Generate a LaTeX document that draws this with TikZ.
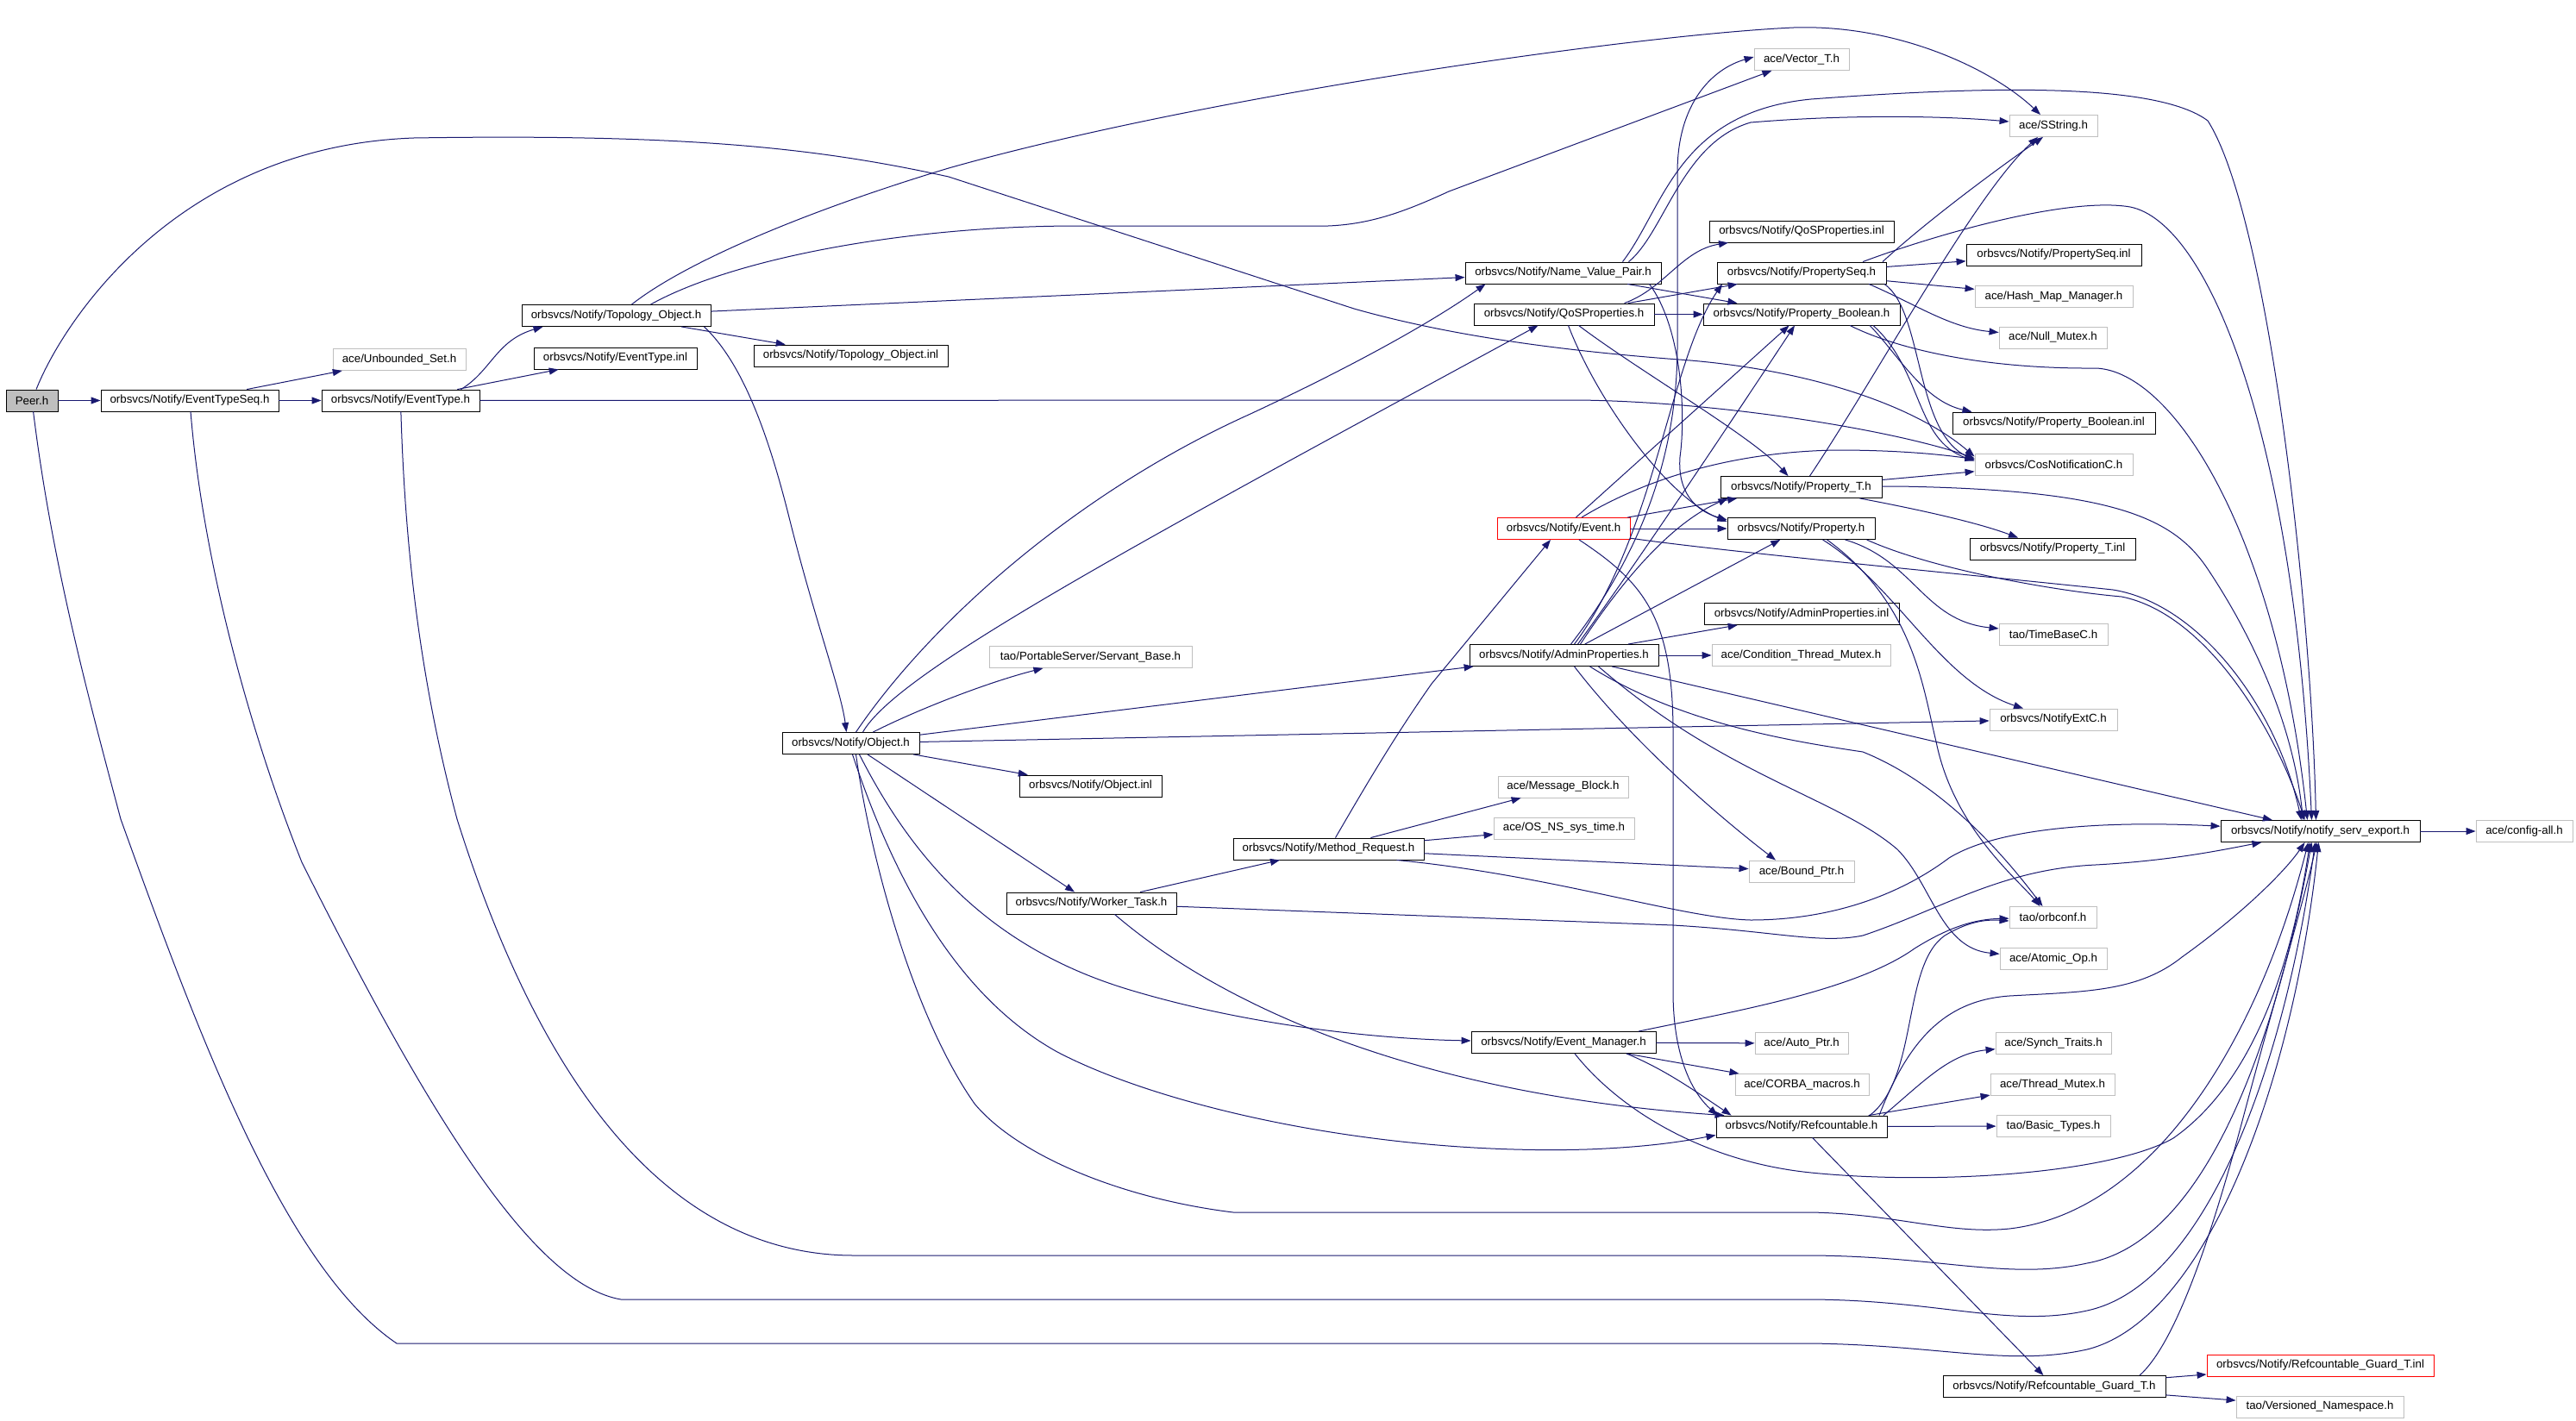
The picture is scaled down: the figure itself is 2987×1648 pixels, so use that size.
\documentclass[tikz,border=0pt]{standalone}
\usepackage{fontspec}
\setmainfont{Liberation Sans}
\usetikzlibrary{arrows.meta}
\definecolor{mblue}{HTML}{191970}
\definecolor{gbord}{HTML}{BFBFBF}
\definecolor{gfill}{HTML}{BFBFBF}
\newcommand{\nodefnt}{\fontsize{13.3}{15}\selectfont}
\begin{document}
\begin{tikzpicture}[x=1pt,y=-1pt,
  nbase/.style={rectangle, inner sep=0pt, minimum height=25pt, font=\nodefnt, line width=0.9pt},
  doc/.style={nbase, draw=black},
  ext/.style={nbase, draw=gbord},
  redb/.style={nbase, draw=red},
  root/.style={doc, fill=gfill},
  e/.style={draw=mblue, line width=1pt, -{Triangle[length=11pt,width=8pt]}}
]
\fill[white] (0,0) rectangle (2987,1648);
\useasboundingbox (0,0) rectangle (2987,1648);

% ---- nodes ----
\node[root, minimum width=60pt] (peer) at (37,464.5) {Peer.h};
\node[doc, minimum width=206pt] (ets) at (220,464.5) {orbsvcs/Notify/EventTypeSeq.h};
\node[doc, minimum width=183pt] (et) at (464.5,464.5) {orbsvcs/Notify/EventType.h};
\node[ext, minimum width=154pt] (ubs) at (463,417) {ace/Unbounded\_Set.h};
\node[doc, minimum width=189pt] (etinl) at (713.5,415.5) {orbsvcs/Notify/EventType.inl};
\node[doc, minimum width=219pt] (topo) at (714.5,366) {orbsvcs/Notify/Topology\_Object.h};
\node[doc, minimum width=225pt] (topoinl) at (986.5,412.5) {orbsvcs/Notify/Topology\_Object.inl};
\node[doc, minimum width=159pt] (obj) at (986.5,862) {orbsvcs/Notify/Object.h};
\node[ext, minimum width=235pt] (servant) at (1264.5,762) {tao/PortableServer/Servant\_Base.h};
\node[doc, minimum width=165pt] (objinl) at (1264.5,911.5) {orbsvcs/Notify/Object.inl};
\node[doc, minimum width=197pt] (worker) at (1265.5,1047.5) {orbsvcs/Notify/Worker\_Task.h};
\node[doc, minimum width=221pt] (method) at (1540.5,984.5) {orbsvcs/Notify/Method\_Request.h};
\node[ext, minimum width=151pt] (msgblk) at (1812.5,912.5) {ace/Message\_Block.h};
\node[ext, minimum width=163pt] (ostime) at (1813.5,960.5) {ace/OS\_NS\_sys\_time.h};
\node[ext, minimum width=122pt] (boundptr) at (2089,1010.5) {ace/Bound\_Ptr.h};
\node[doc, minimum width=214pt] (evmgr) at (1813,1209) {orbsvcs/Notify/Event\_Manager.h};
\node[ext, minimum width=108pt] (autoptr) at (2089,1210) {ace/Auto\_Ptr.h};
\node[ext, minimum width=155pt] (corba) at (2089.5,1258) {ace/CORBA\_macros.h};
\node[doc, minimum width=198pt] (refc) at (2089,1306.5) {orbsvcs/Notify/Refcountable.h};
\node[doc, minimum width=219pt] (admin) at (1813.5,760) {orbsvcs/Notify/AdminProperties.h};
\node[doc, minimum width=226pt] (admininl) at (2089,712) {orbsvcs/Notify/AdminProperties.inl};
\node[ext, minimum width=207pt] (condmutex) at (2088.5,760) {ace/Condition\_Thread\_Mutex.h};
\node[redb, minimum width=154pt] (event) at (1813,613) {orbsvcs/Notify/Event.h};
\node[doc, minimum width=187pt] (propT) at (2088.5,565) {orbsvcs/Notify/Property\_T.h};
\node[doc, minimum width=171pt] (prop) at (2088.5,613) {orbsvcs/Notify/Property.h};
\node[doc, minimum width=227pt] (nvp) at (1812.5,316.5) {orbsvcs/Notify/Name\_Value\_Pair.h};
\node[doc, minimum width=209pt] (qos) at (1813.5,364.5) {orbsvcs/Notify/QoSProperties.h};
\node[doc, minimum width=214pt] (qosinl) at (2089,268.5) {orbsvcs/Notify/QoSProperties.inl};
\node[doc, minimum width=196pt] (pseq) at (2089,316.5) {orbsvcs/Notify/PropertySeq.h};
\node[doc, minimum width=228pt] (pbool) at (2089,364.5) {orbsvcs/Notify/Property\_Boolean.h};
\node[ext, minimum width=110pt] (vector) at (2089,69) {ace/Vector\_T.h};
\node[ext, minimum width=102pt] (sstring) at (2381,146) {ace/SString.h};
\node[doc, minimum width=203pt] (pseqinl) at (2381.5,295.5) {orbsvcs/Notify/PropertySeq.inl};
\node[ext, minimum width=183pt] (hashmap) at (2381.5,344) {ace/Hash\_Map\_Manager.h};
\node[ext, minimum width=125pt] (nullmutex) at (2380.5,391.5) {ace/Null\_Mutex.h};
\node[doc, minimum width=235pt] (pboolinl) at (2381.5,490.5) {orbsvcs/Notify/Property\_Boolean.inl};
\node[ext, minimum width=183pt] (cosnot) at (2381.5,538.5) {orbsvcs/CosNotificationC.h};
\node[doc, minimum width=192pt] (propTinl) at (2380,636.5) {orbsvcs/Notify/Property\_T.inl};
\node[ext, minimum width=126pt] (timebase) at (2381,735.5) {tao/TimeBaseC.h};
\node[ext, minimum width=148pt] (notifyext) at (2381,834.5) {orbsvcs/NotifyExtC.h};
\node[doc, minimum width=231pt] (nse) at (2690.5,964) {orbsvcs/Notify/notify\_serv\_export.h};
\node[ext, minimum width=112pt] (configall) at (2927,964) {ace/config-all.h};
\node[ext, minimum width=101pt] (orbconf) at (2380.5,1064) {tao/orbconf.h};
\node[ext, minimum width=124pt] (atomic) at (2381,1112) {ace/Atomic\_Op.h};
\node[ext, minimum width=134pt] (synch) at (2381,1210) {ace/Synch\_Traits.h};
\node[ext, minimum width=144pt] (threadmutex) at (2380,1258) {ace/Thread\_Mutex.h};
\node[ext, minimum width=132pt] (basictypes) at (2381,1306) {tao/Basic\_Types.h};
\node[doc, minimum width=258pt] (rgt) at (2382,1608) {orbsvcs/Notify/Refcountable\_Guard\_T.h};
\node[redb, minimum width=263pt] (rgtinl) at (2690.5,1583.5) {orbsvcs/Notify/Refcountable\_Guard\_T.inl};
\node[ext, minimum width=194pt] (versioned) at (2690,1631.5) {tao/Versioned\_Namespace.h};

% ---- edges ----
% Peer.h
\draw[e] (peer) -- (ets);
\draw[e] (peer) .. controls (70,380) and (200,170) .. (480,160) .. controls (800,155) and (950,172) .. (1100,205) -- (1570,358) .. controls (1700,395) and (1850,410) .. (1960,418) .. controls (2100,430) and (2220,470) .. ([yshift=9]cosnot.west);
\draw[e] (peer) .. controls (60,650) and (100,800) .. (140,950) .. controls (230,1200) and (330,1470) .. (460,1558) -- (2100,1558) .. controls (2250,1560) and (2330,1585) .. (2420,1565) .. controls (2560,1530) and (2660,1250) .. ([xshift=-2]nse.south);
% EventTypeSeq.h
\draw[e] (ets) -- (ubs);
\draw[e] (ets) -- (et);
\draw[e] (ets) .. controls (235,650) and (290,850) .. (350,1000) .. controls (500,1300) and (620,1490) .. (720,1507) -- (2100,1507) .. controls (2250,1508) and (2330,1540) .. (2420,1520) .. controls (2560,1490) and (2650,1230) .. ([xshift=-6]nse.south);
% EventType.h
\draw[e] (et) -- (etinl);
\draw[e] ([xshift=70]et.north) .. controls (570,430) and (575,395) .. ([xshift=-85]topo.south);
\draw[e] (et) -- (1830,464) .. controls (2000,466) and (2200,500) .. ([yshift=7]cosnot.west);
\draw[e] (et) .. controls (470,650) and (490,800) .. (530,950) .. controls (640,1300) and (800,1456) .. (990,1456) -- (2100,1456) .. controls (2250,1457) and (2330,1485) .. (2420,1465) .. controls (2560,1440) and (2640,1200) .. ([xshift=-10]nse.south);
% Topology_Object.h
\draw[e] (topo) -- (topoinl);
\draw[e] (topo) -- (nvp);
\draw[e] ([xshift=40]topo.north) .. controls (850,300) and (1050,262) .. (1250,262) -- (1540,262) .. controls (1590,260) and (1630,245) .. (1680,222) -- (vector);
\draw[e] ([xshift=18]topo.north) .. controls (800,300) and (950,240) .. (1100,195) .. controls (1400,110) and (1900,40) .. (2080,32) .. controls (2200,28) and (2310,80) .. ([xshift=-15]sstring.north);
\draw[e] ([xshift=102]topo.south) .. controls (860,420) and (890,500) .. (915,600) .. controls (945,720) and (975,800) .. ([xshift=-5]obj.north);
% Name_Value_Pair.h
\draw[e] ([xshift=76]nvp.north) .. controls (1930,270) and (1950,165) .. (2030,142) .. controls (2150,132) and (2260,135) .. ([yshift=5]sstring.west);
\draw[e] ([xshift=69]nvp.north) .. controls (1930,240) and (1945,130) .. (2100,115) .. controls (2300,100) and (2500,95) .. (2560,140) .. controls (2630,250) and (2680,700) .. ([xshift=-5]nse.north);
\draw[e] (nvp) -- (pbool);
\draw[e] ([xshift=100]nvp.south) .. controls (1950,380) and (1955,480) .. (1948,530) .. controls (1945,570) and (1965,592) .. ([yshift=10]prop.west);
% QoSProperties.h
\draw[e] ([xshift=70]qos.north) .. controls (1930,335) and (1950,290) .. ([xshift=-85]qosinl.south);
\draw[e] (qos) -- (pseq);
\draw[e] (qos) -- (pbool);
\draw[e] ([xshift=5]qos.south) .. controls (1850,460) and (1930,575) .. ([yshift=8]prop.west);
\draw[e] ([xshift=17]qos.south) .. controls (1900,430) and (2030,505) .. ([xshift=-15]propT.north);
% PropertySeq.h
\draw[e] (pseq) -- (pseqinl);
\draw[e] (pseq) -- (hashmap);
\draw[e] ([xshift=78]pseq.south) .. controls (2220,352) and (2260,380) .. (nullmutex);
\draw[e] ([xshift=96]pseq.south) .. controls (2230,360) and (2220,500) .. ([yshift=5]cosnot.west);
\draw[e] ([xshift=94]pseq.north) .. controls (2230,260) and (2310,200) .. ([xshift=-12]sstring.south);
\draw[e] ([xshift=71]pseq.north) .. controls (2250,270) and (2400,228) .. (2470,240) .. controls (2560,258) and (2660,500) .. ([xshift=-10]nse.north);
% Property_Boolean.h
\draw[e] ([xshift=79]pbool.south) .. controls (2200,410) and (2230,465) .. ([xshift=-95]pboolinl.north);
\draw[e] ([xshift=83]pbool.south) .. controls (2230,430) and (2220,510) .. ([yshift=4]cosnot.west);
\draw[e] ([xshift=56]pbool.south) .. controls (2200,405) and (2300,428) .. (2430,427) .. controls (2520,430) and (2640,620) .. ([xshift=-15]nse.north);
% Property_T.h
\draw[e] ([xshift=68]propT.south) .. controls (2220,590) and (2290,605) .. ([xshift=-40]propTinl.north);
\draw[e] (propT) -- (cosnot);
\draw[e] ([xshift=10]propT.north) .. controls (2180,430) and (2290,225) .. ([xshift=-18]sstring.south);
\draw[e] (propT) -- (2200,564) .. controls (2450,568) and (2520,600) .. (2560,660) .. controls (2620,750) and (2660,850) .. ([xshift=-20]nse.north);
% Property.h
\draw[e] ([xshift=51]prop.south) .. controls (2220,650) and (2230,720) .. (timebase);
\draw[e] ([xshift=25]prop.south) .. controls (2200,680) and (2250,790) .. ([xshift=-35]notifyext.north);
\draw[e] ([xshift=30]prop.south) .. controls (2220,700) and (2230,800) .. (2245,860) .. controls (2265,960) and (2340,1020) .. ([xshift=-15]orbconf.north);
\draw[e] ([xshift=76]prop.south) .. controls (2240,660) and (2380,685) .. (2460,692) .. controls (2560,712) and (2640,850) .. ([xshift=-18]nse.north);
% Event.h
\draw[e] (event) -- (prop);
\draw[e] (event) -- (propT);
\draw[e] (event) -- (pbool);
\draw[e] ([xshift=21]event.north) .. controls (1900,560) and (2000,524) .. (2130,522) .. controls (2200,522) and (2250,527) .. ([yshift=6]cosnot.west);
\draw[e] ([xshift=18]event.south) .. controls (1905,675) and (1940,715) .. (1940,850) -- (1940,1150) .. controls (1940,1230) and (1965,1270) .. ([xshift=2]refc.north west);
\draw[e] (event) .. controls (2000,640) and (2300,668) .. (2450,684) .. controls (2550,700) and (2640,820) .. ([xshift=-22]nse.north);
% AdminProperties.h
\draw[e] (admin) -- (admininl);
\draw[e] (admin) -- (condmutex);
\draw[e] (admin) -- (prop);
\draw[e] ([xshift=19]admin.north) .. controls (1870,690) and (1930,610) .. ([xshift=-85]propT.south);
\draw[e] ([xshift=16]admin.north) .. controls (1900,650) and (2000,500) .. ([xshift=-8]pbool.south);
\draw[e] ([xshift=12]admin.north) .. controls (1920,620) and (1935,420) .. ([xshift=-92]pseq.south);
\draw[e] ([xshift=8]admin.north) .. controls (1920,620) and (1945,500) .. (1945,400) -- (1945,200) .. controls (1945,120) and (1985,80) .. ([yshift=3]vector.west);
\draw[e] ([xshift=12]admin.south) .. controls (1900,870) and (2010,960) .. ([xshift=-30]boundptr.north);
\draw[e] ([xshift=30]admin.south) .. controls (1950,840) and (2080,860) .. (2160,872) .. controls (2230,900) and (2300,960) .. ([xshift=-12]orbconf.north);
\draw[e] ([xshift=40]admin.south) .. controls (2000,900) and (2130,925) .. (2200,985) .. controls (2240,1025) and (2250,1100) .. (atomic);
\draw[e] (admin) -- (nse);
% Object.h
\draw[e] ([xshift=6]obj.north) .. controls (1080,720) and (1250,570) .. (1450,480) .. controls (1600,410) and (1680,360) .. ([xshift=-90]nvp.south);
\draw[e] ([xshift=14]obj.north) .. controls (1040,780) and (1300,640) .. ([xshift=-30]qos.south);
\draw[e] (obj) -- (admin);
\draw[e] (obj) -- (notifyext);
\draw[e] (obj) .. controls (1070,820) and (1150,790) .. ([xshift=-55]servant.south);
\draw[e] (obj) -- (objinl);
\draw[e] (obj) -- (worker);
\draw[e] ([xshift=10]obj.south) .. controls (1060,1000) and (1150,1100) .. (1310,1148) .. controls (1450,1190) and (1600,1205) .. (evmgr);
\draw[e] ([xshift=2]obj.south) .. controls (1030,1000) and (1100,1150) .. (1226,1220) .. controls (1350,1285) and (1600,1340) .. (1840,1333) .. controls (1920,1330) and (1960,1322) .. ([yshift=3]refc.south west);
\draw[e] ([xshift=6]obj.south) .. controls (1010,1000) and (1060,1180) .. (1130,1280) .. controls (1180,1340) and (1300,1390) .. (1430,1406) -- (2100,1406) .. controls (2200,1408) and (2260,1432) .. (2330,1425) .. controls (2500,1405) and (2620,1200) .. ([xshift=-14]nse.south);
% Worker_Task.h
\draw[e] (worker) -- (method);
\draw[e] ([xshift=27]worker.south) .. controls (1420,1170) and (1650,1270) .. ([xshift=10]refc.north west);
\draw[e] (worker) -- (1940,1073) .. controls (2060,1080) and (2110,1095) .. (2160,1085) .. controls (2250,1055) and (2320,1008) .. (2430,1003) .. controls (2520,998) and (2580,985) .. (nse);
% Method_Request.h
\draw[e] (method) -- (msgblk);
\draw[e] (method) -- (ostime);
\draw[e] (method) -- (boundptr);
\draw[e] ([xshift=8]method.north) .. controls (1590,900) and (1620,850) .. (1660,793) -- ([xshift=-15]event.south);
\draw[e] ([xshift=79]method.south) .. controls (1800,1015) and (1950,1065) .. (2030,1067) .. controls (2120,1067) and (2200,1040) .. (2260,995) .. controls (2320,958) and (2450,952) .. (nse);
% Event_Manager.h
\draw[e] (evmgr) -- (autoptr);
\draw[e] (evmgr) -- (corba);
\draw[e] ([xshift=73]evmgr.south) .. controls (1930,1240) and (1965,1265) .. ([xshift=18]refc.north west);
\draw[e] ([xshift=87]evmgr.north) .. controls (2000,1175) and (2150,1150) .. (2220,1100) .. controls (2260,1075) and (2290,1066) .. (orbconf);
\draw[e] ([xshift=13]evmgr.south) .. controls (1880,1290) and (1980,1348) .. (2100,1360) .. controls (2250,1375) and (2450,1360) .. (2520,1320) .. controls (2620,1250) and (2660,1100) .. ([xshift=-12]nse.south);
% Refcountable.h
\draw[e] ([xshift=79]refc.north) .. controls (2225,1250) and (2205,1120) .. (2255,1085) .. controls (2280,1070) and (2300,1066) .. ([yshift=-4]orbconf.west);
\draw[e] ([xshift=95]refc.north) .. controls (2230,1255) and (2260,1222) .. (synch);
\draw[e] (refc) -- (threadmutex);
\draw[e] (refc) -- (basictypes);
\draw[e] ([xshift=90]refc.north) .. controls (2215,1200) and (2260,1160) .. (2330,1155) .. controls (2420,1150) and (2480,1150) .. (2530,1110) .. controls (2600,1060) and (2650,1010) .. ([xshift=-18]nse.south);
\draw[e] (refc) -- (rgt);
% Refcountable_Guard_T.h
\draw[e] (rgt) -- (rgtinl);
\draw[e] (rgt) -- (versioned);
\draw[e] ([xshift=99]rgt.north) .. controls (2520,1560) and (2560,1450) .. (2600,1300) .. controls (2640,1150) and (2670,1050) .. ([xshift=-4]nse.south);
% notify_serv_export.h
\draw[e] (nse) -- (configall);
\end{tikzpicture}
\end{document}
